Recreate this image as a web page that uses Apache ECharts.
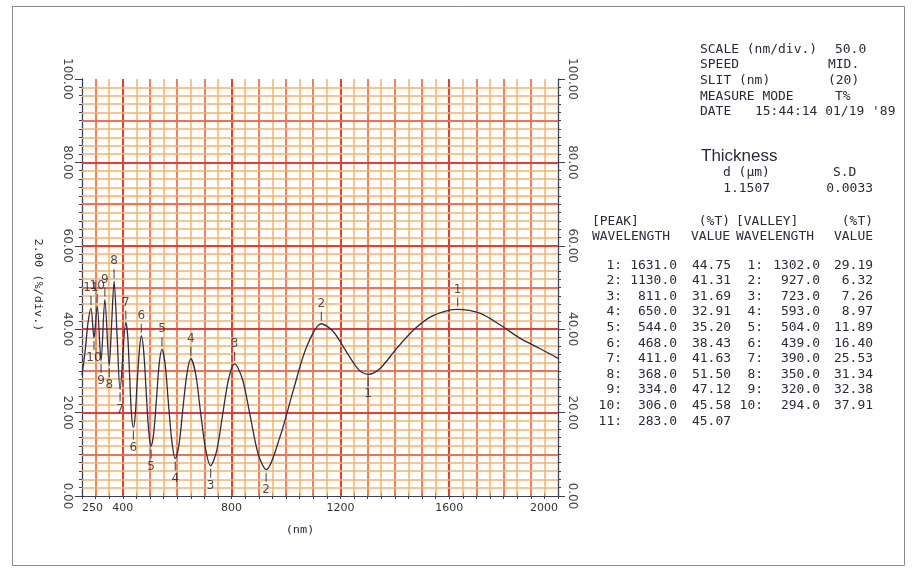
<!DOCTYPE html>
<html>
<head>
<meta charset="utf-8">
<script src="https://cdn.jsdelivr.net/npm/echarts@6/dist/echarts.min.js"></script>
<style>
html,body{margin:0;padding:0;background:#fff;}
#chart{width:912px;height:569px;}
</style>
</head>
<body>
<div id="chart"></div>
<script>
// ---- Data ----
const wavelength = [250, 262, 272, 283, 294, 306, 320, 334, 350, 359, 368, 379, 390, 411, 418, 425, 432, 439, 446, 453, 461, 468, 477, 486, 495, 504, 514, 524, 534, 544, 556, 568, 581, 593, 607, 621, 636, 650, 668, 686, 705, 723, 745, 767, 789, 811, 840, 869, 898, 927, 978, 1027, 1076, 1130, 1173, 1216, 1259, 1280, 1302, 1346, 1407, 1469, 1530, 1591, 1631, 1714, 1788, 1861, 1935, 2000];
const transmittance = [29.0, 35.0, 41.5, 45.07, 37.91, 45.58, 32.38, 47.12, 31.34, 41.4, 51.50, 38.5, 25.53, 41.63, 38.5, 29.0, 19.6, 16.40, 19.6, 27.5, 35.0, 38.43, 34.5, 25.0, 15.8, 11.89, 15.3, 23.5, 31.8, 35.20, 31.4, 22.0, 12.8, 8.97, 12.5, 21.0, 29.4, 32.91, 29.2, 20.0, 11.0, 7.26, 10.8, 19.5, 28.1, 31.69, 28.0, 19.0, 10.0, 6.32, 14.2, 25.4, 35.8, 41.31, 39.5, 35.2, 30.9, 29.6, 29.19, 30.6, 35.4, 39.8, 42.9, 44.4, 44.75, 43.8, 41.0, 37.8, 35.3, 33.0];

const peakWl  = [1631.0, 1130.0, 811.0, 650.0, 544.0, 468.0, 411.0, 368.0, 334.0, 306.0, 283.0];
const peakVal = [44.75, 41.31, 31.69, 32.91, 35.20, 38.43, 41.63, 51.50, 47.12, 45.58, 45.07];
const valleyWl  = [1302.0, 927.0, 723.0, 593.0, 504.0, 439.0, 390.0, 350.0, 320.0, 294.0];
const valleyVal = [29.19, 6.32, 7.26, 8.97, 11.89, 16.40, 25.53, 31.34, 32.38, 37.91];

const xTickLabels = [250, 400, 800, 1200, 1600, 2000];
const yTickLabels = [0, 20, 40, 60, 80, 100];

const headerRows = [
  ['SCALE (nm/div.)', '50.0'],
  ['SPEED', 'MID.'],
  ['SLIT (nm)', '(20)'],
  ['MEASURE MODE', 'T%'],
  ['DATE', "15:44:14 01/19 '89"]
];
const thicknessLabel = 'Thickness';
const thicknessHeads = ['d (\u03bcm)', 'S.D'];
const thicknessVals = ['1.1507', '0.0033'];

// ---- Chart ----
const chart = echarts.init(document.getElementById('chart'), null, {renderer: 'canvas'});
const AX = '#3b3f5e';
const MONO = '"DejaVu Sans Mono", monospace';
const SANS = '"DejaVu Sans", sans-serif';

const cMajor = '#ec3c2c', cMed = '#f3724a', cMinor = '#f9b264';

const gridRect = {left: 82, right: 354, top: 79, bottom: 73};
const grids = [0,1,2,3].map(() => Object.assign({}, gridRect));

const lineData = wavelength.map((w, i) => [w, transmittance[i]]);
const peakData = peakWl.map((w, i) => [w, peakVal[i]]);
const valleyData = valleyWl.map((w, i) => [w, valleyVal[i]]);

// chart-paper rulings, placed through the library's axes
const gridMarks = [];
for (let v = 300; v < 2000; v += 50) {
  const c = v % 400 === 0 ? cMajor : (v % 100 === 0 ? cMed : cMinor);
  gridMarks.push({xAxis: v, lineStyle: {color: c, width: v % 400 === 0 ? 2 : (v % 100 === 0 ? 1.8 : 1.5), type: 'solid'}});
}
for (let v = 2; v < 100; v += 2) {
  const c = v % 20 === 0 ? cMajor : (v % 10 === 0 ? cMed : cMinor);
  gridMarks.push({yAxis: v, lineStyle: {color: c, width: v % 20 === 0 ? 2 : (v % 10 === 0 ? 1.8 : 1.5), type: 'solid'}});
}

function txt(text, x, y, align, font, extra) {
  return Object.assign({
    type: 'text', x: x, y: y, scaleX: 1.08, silent: true,
    style: {text: text, font: font || ('12px ' + MONO), fill: '#2a2b3a', align: align || 'left', verticalAlign: 'middle'}
  }, extra || {});
}

const graphics = [];
graphics.push({type: 'rect', shape: {x: 12.5, y: 6.5, width: 892, height: 559}, style: {fill: 'none', stroke: '#8a8a8a', lineWidth: 1}, silent: true});
const hy = [50, 65, 80.5, 96.5, 112];
const hx2 = [835, 828, 828, 835, 755];
headerRows.forEach((r, i) => {
  graphics.push(txt(r[0], 700, hy[i], 'left'));
  graphics.push(txt(r[1], hx2[i], hy[i], 'left'));
});
graphics.push(txt(thicknessLabel, 701, 156, 'left', '17px "Liberation Sans", sans-serif', {scaleX: 1}));
graphics.push(txt(thicknessHeads[0], 723, 173, 'left'));
graphics.push(txt(thicknessHeads[1], 833, 173, 'left'));
graphics.push(txt(thicknessVals[0], 770, 189, 'right'));
graphics.push(txt(thicknessVals[1], 873, 189, 'right'));
graphics.push(txt('[PEAK]', 592, 222, 'left'));
graphics.push(txt('(%T)', 730, 222, 'right'));
graphics.push(txt('[VALLEY]', 736, 222, 'left'));
graphics.push(txt('(%T)', 873, 222, 'right'));
graphics.push(txt('WAVELENGTH', 592, 237, 'left'));
graphics.push(txt('VALUE', 730, 237, 'right'));
graphics.push(txt('WAVELENGTH', 736, 237, 'left'));
graphics.push(txt('VALUE', 873, 237, 'right'));
peakWl.forEach((w, i) => {
  const y = 265.5 + 15.6 * i;
  graphics.push(txt((i + 1) + ':', 622, y, 'right'));
  graphics.push(txt(w.toFixed(1), 677, y, 'right'));
  graphics.push(txt(peakVal[i].toFixed(2), 731, y, 'right'));
  if (i < valleyWl.length) {
    graphics.push(txt((i + 1) + ':', 763, y, 'right'));
    graphics.push(txt(valleyWl[i].toFixed(1), 820, y, 'right'));
    graphics.push(txt(valleyVal[i].toFixed(2), 873, y, 'right'));
  }
});
graphics.push(txt('2.00 (%/div.)', 38, 285, 'center', '11px ' + MONO, {rotation: -Math.PI / 2}));
graphics.push(txt('(nm)', 300, 530, 'center', '11px ' + MONO));

const hiddenX = (g) => ({gridIndex: g, type: 'value', min: 250, max: 2000, interval: 50,
  axisLine: {show: false}, axisTick: {show: false}, axisLabel: {show: false}, splitLine: {show: false}});

const option = {
  animation: false,
  backgroundColor: '#ffffff',
  grid: grids,
  xAxis: [
    {gridIndex: 0, type: 'value', min: 250, max: 2000, interval: 50, position: 'bottom',
     axisLine: {lineStyle: {color: AX, width: 1.2}}, axisTick: {length: 3, lineStyle: {color: AX}},
     axisLabel: {interval: 0, margin: 7, color: '#333', fontFamily: SANS, fontSize: 11,
       alignMinLabel: 'left', alignMaxLabel: 'right', showMinLabel: true, showMaxLabel: true,
       formatter: v => xTickLabels.indexOf(v) >= 0 ? String(v) : ''},
     splitLine: {show: false}},
    {gridIndex: 1, type: 'value', min: 250, max: 2000, interval: 50, position: 'top',
     axisLine: {lineStyle: {color: AX, width: 1.2}}, axisTick: {length: 3, lineStyle: {color: AX}},
     axisLabel: {show: false}, splitLine: {show: false}},
    hiddenX(2),
    hiddenX(3)
  ],
  yAxis: [
    {gridIndex: 0, type: 'value', min: 0, max: 100, interval: 2, position: 'left',
     axisLine: {lineStyle: {color: AX, width: 1.3}}, axisTick: {length: 3, lineStyle: {color: AX}},
     axisLabel: {show: false}, splitLine: {show: false}},
    {gridIndex: 1, type: 'value', min: 0, max: 100, interval: 2, position: 'right',
     axisLine: {lineStyle: {color: AX, width: 1.3}}, axisTick: {length: 3, lineStyle: {color: AX}},
     axisLabel: {show: false}, splitLine: {show: false}},
    {gridIndex: 2, type: 'value', min: 0, max: 100, interval: 20, position: 'left',
     axisLine: {show: false}, axisTick: {length: 7, lineStyle: {color: AX}},
     axisLabel: {rotate: -90, align: 'center', verticalAlign: 'middle', margin: 15, color: '#444', fontFamily: SANS, fontSize: 12,
       formatter: v => yTickLabels.indexOf(v) >= 0 ? v.toFixed(2) : ''},
     splitLine: {show: false}},
    {gridIndex: 3, type: 'value', min: 0, max: 100, interval: 20, position: 'right',
     axisLine: {show: false}, axisTick: {length: 7, lineStyle: {color: AX}},
     axisLabel: {rotate: -90, align: 'center', verticalAlign: 'middle', margin: 14, color: '#444', fontFamily: SANS, fontSize: 12,
       formatter: v => yTickLabels.indexOf(v) >= 0 ? v.toFixed(2) : ''},
     splitLine: {show: false}}
  ],
  series: [
    {type: 'line', xAxisIndex: 0, yAxisIndex: 0, data: [], z: 1, silent: true,
     markLine: {silent: true, symbol: ['none', 'none'], label: {show: false}, animation: false, z: 1, data: gridMarks}},
    {type: 'line', xAxisIndex: 0, yAxisIndex: 0, data: lineData, showSymbol: false, smooth: 0.3,
     lineStyle: {color: '#2b2d48', width: 1.3}, z: 5},
    {type: 'scatter', xAxisIndex: 0, yAxisIndex: 0, data: peakData, symbol: 'rect', symbolSize: [1.2, 9], symbolOffset: [0, -7.5],
     itemStyle: {color: '#333'}, z: 6,
     label: {show: true, position: 'top', distance: 2, color: '#222', fontFamily: SANS, fontSize: 12, formatter: p => String(p.dataIndex + 1)}},
    {type: 'scatter', xAxisIndex: 0, yAxisIndex: 0, data: valleyData, symbol: 'rect', symbolSize: [1.2, 9], symbolOffset: [0, 7.5],
     itemStyle: {color: '#333'}, z: 6,
     label: {show: true, position: 'bottom', distance: 2, color: '#222', fontFamily: SANS, fontSize: 12, formatter: p => String(p.dataIndex + 1)}}
  ],
  graphic: graphics
};
chart.setOption(option);
</script>
</body>
</html>
